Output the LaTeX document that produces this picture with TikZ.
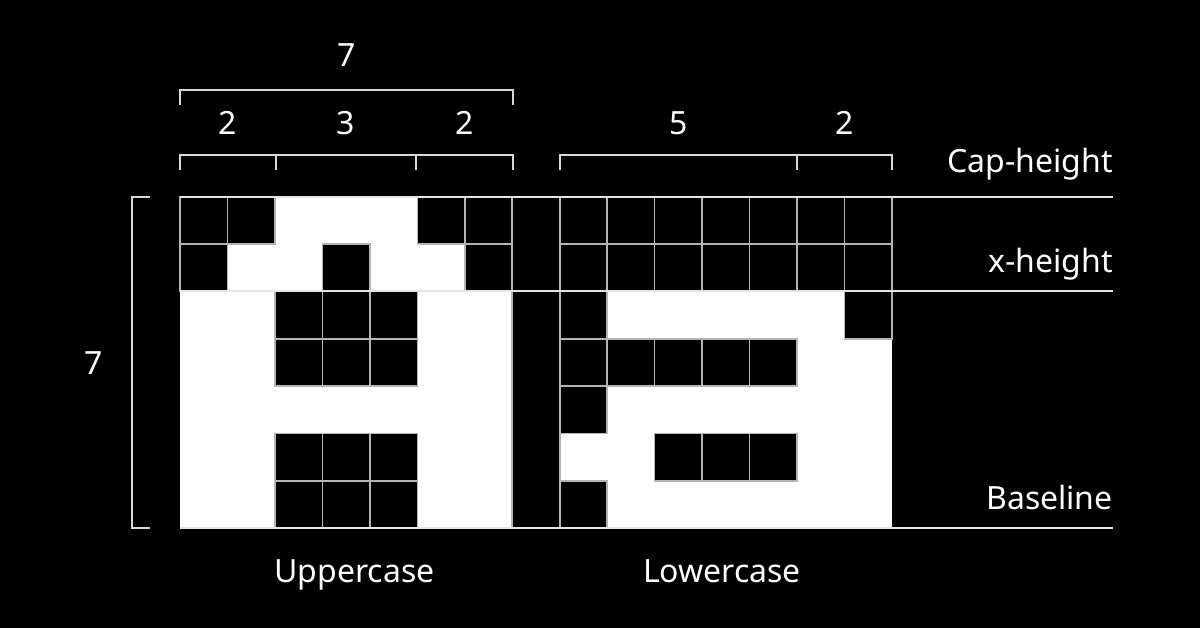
\documentclass[tikz,border=0pt]{standalone}
\usepackage{fontspec}
\setmainfont{Noto Sans}
\definecolor{gridgray}{HTML}{B4B4B4}
\definecolor{guidewhite}{HTML}{E6E6E6}
\definecolor{brkgray}{HTML}{D8D8D8}
\begin{document}
\begin{tikzpicture}[x=1pt,y=-1pt,
  cellblk/.style={fill=black,draw=gridgray,line width=1.6pt},
  guide/.style={draw=guidewhite,line width=2.2pt},
  brk/.style={draw=brkgray,line width=2pt},
  lbl/.style={text=white,font=\fontsize{32}{37}\selectfont,inner sep=0pt}]
\fill[black] (0,0) rectangle (1200,628);
\useasboundingbox (0,0) rectangle (1200,628);
\def\cw{47.4667}
\def\ch{47.2857}
% white glyph area
\fill[white] (180,197) rectangle (892,528);
% black cells
\foreach \c/\r in {0/0,1/0,5/0,6/0,8/0,9/0,10/0,11/0,12/0,13/0,14/0,
                   0/1,3/1,6/1,8/1,9/1,10/1,11/1,12/1,13/1,14/1,
                   2/2,3/2,4/2,8/2,14/2,
                   2/3,3/3,4/3,8/3,9/3,10/3,11/3,12/3,
                   8/4,
                   2/5,3/5,4/5,10/5,11/5,12/5,
                   2/6,3/6,4/6,8/6}
  \draw[cellblk] ({180+\c*\cw},{197+\r*\ch}) rectangle ++(\cw,\ch);
% separator column
\draw[cellblk] ({180+7*\cw},197) rectangle ({180+8*\cw},528);
% guide lines
\coordinate (capL) at (180,197); \coordinate (capR) at (1113,197);
\coordinate (xhL) at (180,291);  \coordinate (xhR) at (1113,291);
\coordinate (blL) at (180,528);  \coordinate (blR) at (1113,528);
\draw[guide] (capL) -- (capR);
\draw[guide] (xhL) -- (xhR);
\draw[guide] (blL) -- (blR);
% top brackets
\draw[brk] (180,105) -- (180,90) -- (513,90) -- (513,105);
\draw[brk] (180,170) -- (180,155) -- (513,155) -- (513,170);
\draw[brk] (276,155) -- (276,170);
\draw[brk] (416,155) -- (416,170);
\draw[brk] (560,170) -- (560,155) -- (892,155) -- (892,170);
\draw[brk] (797,155) -- (797,170);
% left bracket
\draw[brk] (150,197) -- (132,197) -- (132,528) -- (150,528);
% numbers
\node[lbl,anchor=base] (n7top) at (346.5,67) {7};
\node[lbl,anchor=base] (n2a) at (228,135) {2};
\node[lbl,anchor=base] (n3) at (346,135) {3};
\node[lbl,anchor=base] (n2b) at (464.5,135) {2};
\node[lbl,anchor=base] (n5) at (678.5,135) {5};
\node[lbl,anchor=base] (n2c) at (844.5,135) {2};
\node[lbl,anchor=base] (n7left) at (94,374) {7};
% labels
\node[lbl,anchor=base east] (capht) at (1113,173) {Cap-height};
\node[lbl,anchor=base east] (xht) at (1113,273) {x-height};
\node[lbl,anchor=base east] (basel) at (1113,509) {Baseline};
\node[lbl,anchor=base] (upper) at (354.5,582) {Uppercase};
\node[lbl,anchor=base] (lower) at (722,582) {Lowercase};
\end{tikzpicture}
\end{document}
